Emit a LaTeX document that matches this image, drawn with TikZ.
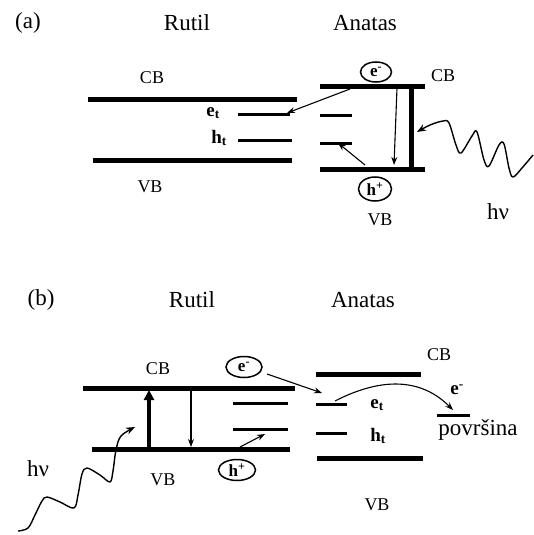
\documentclass[tikz,border=0pt]{standalone}
\usepackage{fontspec}
\setmainfont{Liberation Serif}
\usetikzlibrary{arrows.meta,shapes.geometric}
\begin{document}
\begin{tikzpicture}[x=1pt,y=-1pt,
 band/.style={line width=5pt},
 trap/.style={line width=3pt},
 gap/.style={line width=5pt},
 thinarrow/.style={line width=1.1pt,-{Stealth[length=8pt,width=6pt]}},
 wave/.style={line width=1.4pt,line join=round,-{Stealth[length=9pt,width=7pt]}},
 title/.style={font=\fontsize{23}{25}\selectfont, inner sep=0pt},
 lbl/.style={font=\fontsize{18}{20}\selectfont, inner sep=0pt},
 trapl/.style={font=\fontsize{19}{21}\selectfont\bfseries, inner sep=0pt},
 carrier/.style={ellipse, draw, line width=1.5pt, inner sep=0pt, font=\fontsize{17}{17}\selectfont\bfseries}
]
\useasboundingbox (0,0) rectangle (533,535);

% ---------- panel (a) ----------
\node[title] (la) at (28,23) {(a)};
\node[title] (ra) at (187,23) {Rutil};
\node[title] (aa) at (365,23) {Anatas};

% rutile
\draw[band] (88,99) -- (297,99);
\draw[band] (93,160) -- (292,160);
\draw[trap] (238,114) -- (290,114);
\draw[trap] (238,140) -- (292,140);
\node[lbl] (cbra) at (152,78) {CB};
\node[lbl] (vbra) at (150,187) {VB};
\node[trapl] (eta) at (213,113) {e\textsubscript{t}};
\node[trapl] (hta) at (219,138) {h\textsubscript{t}};

% anatase
\draw[band] (320,86) -- (425,86);
\draw[band] (320,169) -- (425,169);
\draw[trap] (320,115) -- (352,115);
\draw[trap] (320,143) -- (352,143);
\draw[gap] (411,86) -- (411,169);
\coordinate (dta) at (397,88);
\coordinate (dba) at (394,165);
\draw[thinarrow] (dta) -- (dba);
\node[carrier, minimum width=31pt, minimum height=20pt] (ea) at (376,72) {e\textsuperscript{-}};
\node[carrier, minimum width=33pt, minimum height=24pt] (ha) at (375,189) {h\textsuperscript{+}};
\node[lbl] (cbaa) at (443,76) {CB};
\node[lbl] (vbaa) at (380,220) {VB};
\coordinate (es) at (350,89);
\coordinate (ee) at (287,113);
\draw[thinarrow] (es) -- (ee);
\coordinate (hs) at (365,165);
\coordinate (he) at (338,143);
\draw[thinarrow] (hs) -- (he);
\node[title] (hva) at (498,212) {hν};
\draw[wave] plot[smooth, tension=0.55] coordinates {(533,155) (522,168) (513,177) (509,168) (504,144) (499,145) (489,166) (484,160) (477,132) (472,136) (461,153) (456,145) (449,123) (443,121) (430,125) (417,132)};

% ---------- panel (b) ----------
\node[title] (lb) at (41,300) {(b)};
\node[title] (rb) at (192,300) {Rutil};
\node[title] (ab) at (363,300) {Anatas};

% rutile
\draw[band] (83,388) -- (295,388);
\draw[band] (92,449) -- (290,449);
\draw[trap] (233,403) -- (288,403);
\draw[trap] (233,429) -- (288,429);
\node[lbl] (cbrb) at (158,369) {CB};
\node[lbl] (vbrb) at (163,480) {VB};
\coordinate (ub) at (149,447);
\coordinate (ut) at (149,390);
\draw[line width=4pt,-{Triangle[length=10pt,width=10pt]}] (ub) -- (ut);
\coordinate (dtb) at (191,390);
\coordinate (dbb) at (191,447);
\draw[thinarrow] (dtb) -- (dbb);
\node[carrier, minimum width=36pt, minimum height=21pt] (eb) at (244,367) {e\textsuperscript{-}};
\node[carrier, minimum width=37pt, minimum height=21pt] (hb) at (237,470) {h\textsuperscript{+}};
\coordinate (esb) at (267,374);
\coordinate (eeb) at (322,393);
\draw[thinarrow] (esb) -- (eeb);
\coordinate (hsb) at (240,447);
\coordinate (heb) at (265,434);
\draw[thinarrow] (hsb) -- (heb);

% anatase
\draw[band] (316,374) -- (421,374);
\draw[band] (317,458) -- (423,458);
\draw[trap] (316,404) -- (347,404);
\draw[trap] (316,433) -- (347,433);
\draw[trap] (437,415) -- (470,415);
\node[lbl] (cbab) at (439,355) {CB};
\node[trapl] (etb) at (377,405) {e\textsubscript{t}};
\node[trapl] (htb) at (378,436) {h\textsubscript{t}};
\node[trapl] (esurf) at (457,390) {e\textsuperscript{-}};
\node[title] (surf) at (478,430) {površina};
\node[lbl] (vbab) at (377,505) {VB};
\coordinate (cs) at (335,401);
\coordinate (ce) at (453,410);
\draw[thinarrow] (cs) .. controls (370,383) and (415,372) .. (ce);
\node[title] (hvb) at (38,469) {hν};
\draw[wave] plot[smooth, tension=0.55] coordinates {(18,531) (28,528) (35,515) (42,501) (47,497) (60,502) (74,508) (78,495) (82,474) (87,468) (100,475) (110,482) (113,471) (116,450) (121,436) (135,427)};
\end{tikzpicture}
\end{document}
